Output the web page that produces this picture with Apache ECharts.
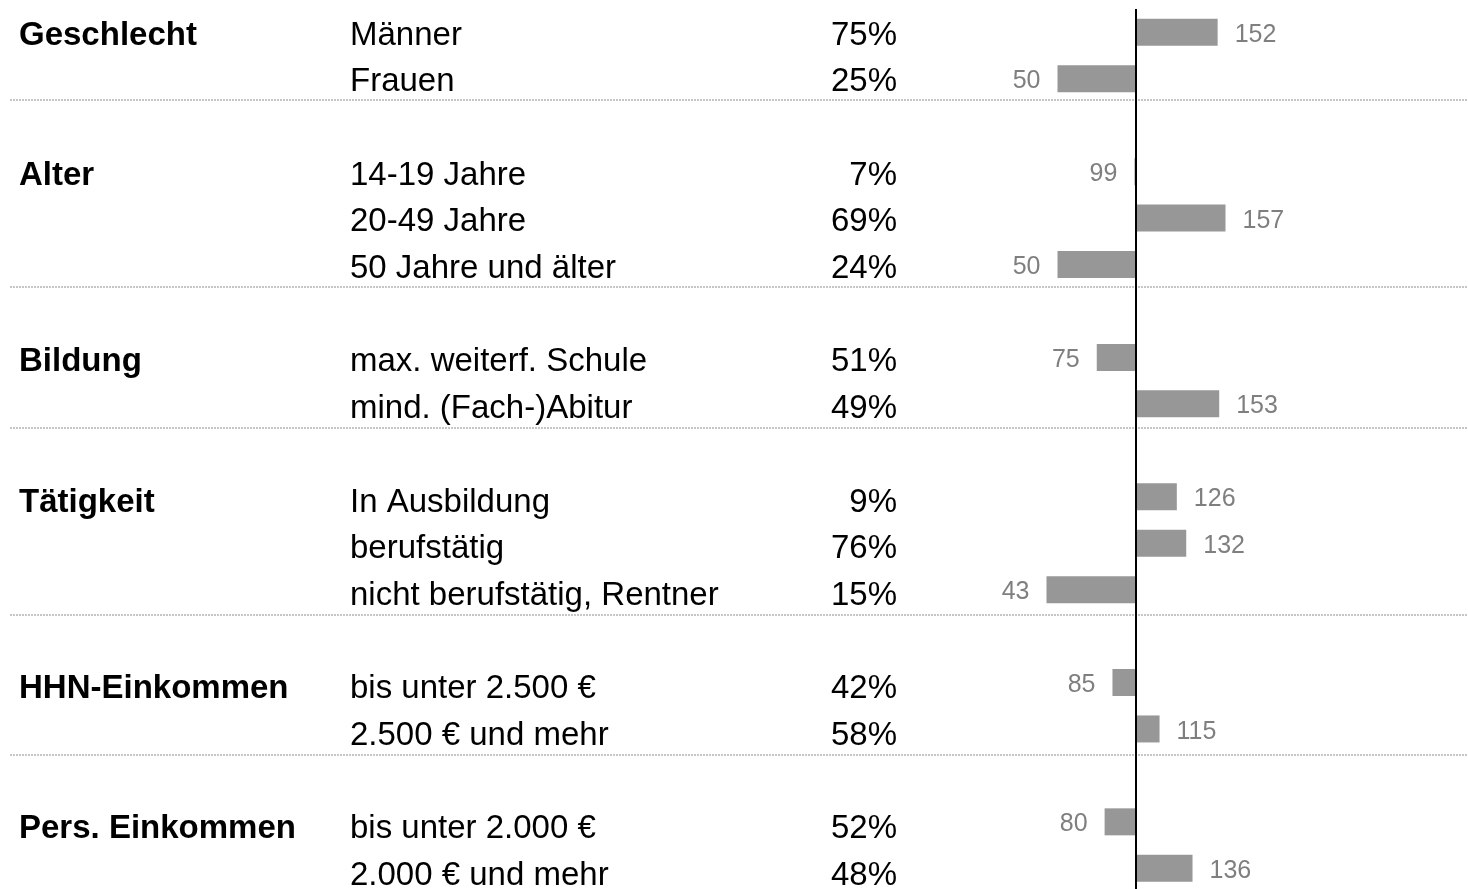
<!DOCTYPE html>
<html>
<head>
<meta charset="utf-8">
<script src="https://cdn.jsdelivr.net/npm/echarts@6/dist/echarts.min.js"></script>
<style>
html,body{margin:0;padding:0;background:#fff;overflow:hidden;}
#c{width:1468px;height:900px;}
</style>
</head>
<body>
<div id="c"></div>
<script>
// ---- data ----
const groupLabels = ['Geschlecht','','','Alter','','','','Bildung','','','Tätigkeit','','','','HHN-Einkommen','','','Pers. Einkommen',''];
const categories = ['Männer','Frauen','','14-19 Jahre','20-49 Jahre','50 Jahre und älter','','max. weiterf. Schule','mind. (Fach-)Abitur','','In Ausbildung','berufstätig','nicht berufstätig, Rentner','','bis unter 2.500 €','2.500 € und mehr','','bis unter 2.000 €','2.000 € und mehr'];
const shares = [75,25,null,7,69,24,null,51,49,null,9,76,15,null,42,58,null,52,48];
const indexValues = [152,50,null,99,157,50,null,75,153,null,126,132,43,null,85,115,null,80,136];
const baseIndex = 100;
const separatorRows = [2,6,9,13,16];

// ---- chart ----
const FONT = '"Liberation Sans", Arial, Helvetica, sans-serif';
const chart = echarts.init(document.getElementById('c'), null, {renderer: 'canvas'});

const barData = indexValues.map(v => v == null ? null : {
  value: v - baseIndex,
  label: { position: v >= baseIndex ? 'right' : 'left' }
});
const shareLabels = shares.map(s => s == null ? '' : s + '%');

function labelAxis(data, margin, align, weight) {
  return {
    type: 'category', gridIndex: 2, data: data, inverse: true, position: 'left',
    axisLine: { show: false, onZero: false }, axisTick: { show: false }, splitLine: { show: false },
    axisLabel: { show: true, inside: true, interval: 0, margin: margin, align: align,
      verticalAlign: 'middle',
      color: '#000', fontSize: 33, fontWeight: weight, fontFamily: FONT }
  };
}

const PX_PER_UNIT = 1.57;
const ZERO_X = 1136;
const W = 1468;

chart.setOption({
  animation: false,
  backgroundColor: '#fff',
  textStyle: { fontFamily: FONT },
  grid: [
    { left: 0, right: 0, top: 9.1, height: 882.4, outerBoundsMode: 'none' },
    { left: 10, right: 0, top: 5.6, height: 890.2, outerBoundsMode: 'none' },
    { left: 0, right: 0, top: 12.2, height: 887.1, outerBoundsMode: 'none' }
  ],
  xAxis: [
    { type: 'value', gridIndex: 0, min: -ZERO_X / PX_PER_UNIT, max: (W - ZERO_X) / PX_PER_UNIT, show: false },
    { type: 'value', gridIndex: 1, min: 0, max: 1, show: false },
    { type: 'value', gridIndex: 2, min: 0, max: 1, show: false }
  ],
  yAxis: [
    {
      type: 'category', gridIndex: 0, data: categories, inverse: true, show: false
    },
    {
      type: 'category', gridIndex: 1, data: categories, inverse: true, position: 'left',
      axisLine: { show: false, onZero: false }, axisTick: { show: false }, axisLabel: { show: false },
      splitLine: { show: true, interval: (i) => separatorRows.indexOf(i) >= 0,
        lineStyle: { color: '#b4b4b4', width: 1.5, type: [2, 1] } }
    },
    labelAxis(categories, 350, 'left', 'normal'),
    labelAxis(groupLabels, 19, 'left', 'bold'),
    labelAxis(shareLabels, 897, 'right', 'normal')
  ],
  series: [{
    type: 'bar', xAxisIndex: 0, yAxisIndex: 0,
    data: barData, barWidth: 27,
    itemStyle: { color: '#979797' },
    label: { show: true, distance: 17, offset: [0, 2.7], color: '#7f7f7f', fontSize: 25, fontFamily: FONT,
      formatter: p => String(indexValues[p.dataIndex]) },
    markLine: {
      silent: true, symbol: 'none', label: { show: false },
      lineStyle: { color: '#000', width: 2, type: 'solid' },
      data: [{ xAxis: 0 }]
    }
  }]
});
</script>
</body>
</html>
